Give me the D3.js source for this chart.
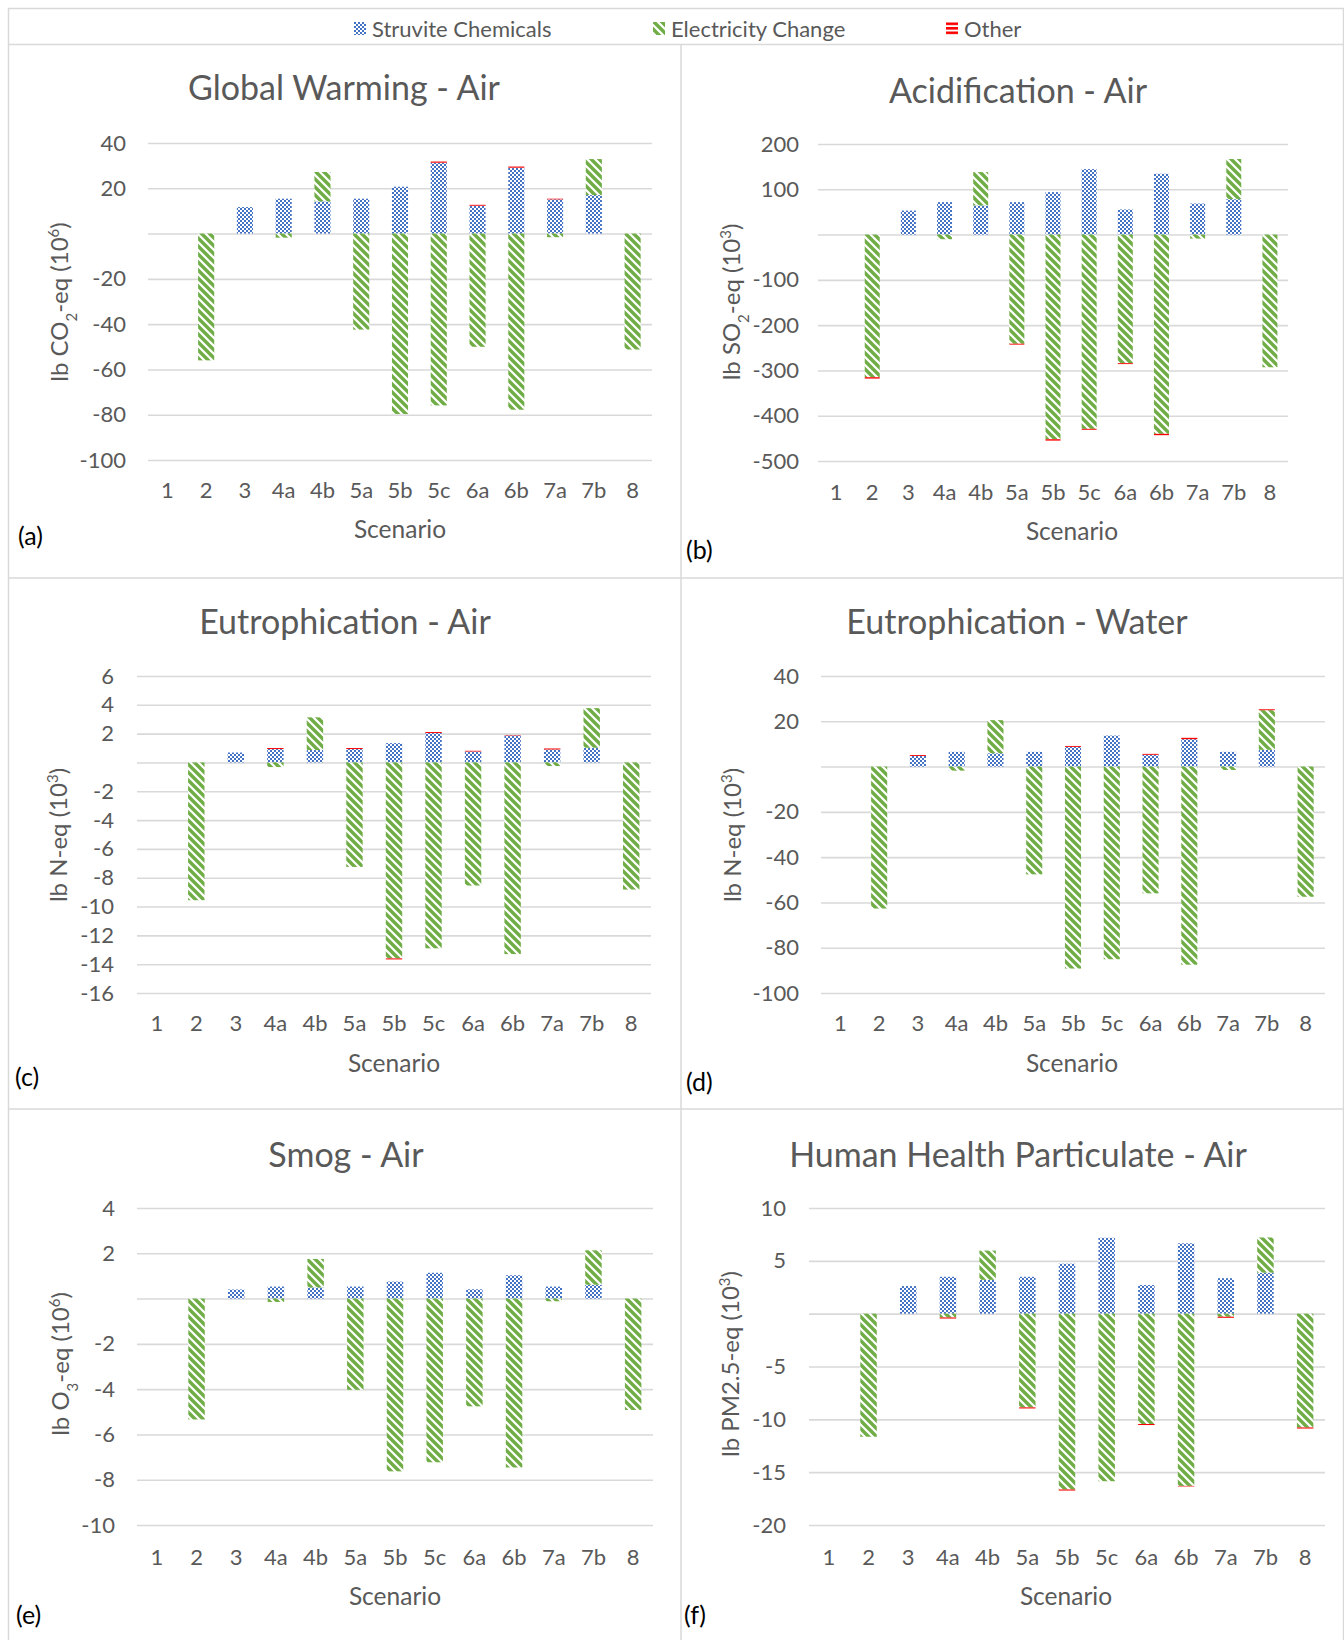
<!DOCTYPE html>
<html>
<head>
<meta charset="utf-8">
<script src="https://cdn.jsdelivr.net/npm/d3@7"></script>
<style>
  body { margin: 0; background: #fff; }
  text { font-family: Lato, "Open Sans", sans-serif; }
</style>
</head>
<body>
<svg id="chart" width="1344" height="1640"></svg>
<script>
const scenarios = ["1", "2", "3", "4a", "4b", "5a", "5b", "5c", "6a", "6b", "7a", "7b", "8"];
const seriesNames = ["Struvite Chemicals", "Electricity Change", "Other"];

// (a) Global Warming - Air, lb CO2-eq (10^6)
const gwStruvite    = [0, 0, 11.7, 15.4, 14.2, 15.4, 20.7, 31.3, 12.3, 29.1, 15.1, 17.0, 0];
const gwElectricity = [0, -56, 0, -1.8, 13.0, -42.4, -79.7, -75.9, -50.0, -77.8, -1.6, 15.9, -51.2];
const gwOther       = [0, 0, 0, 0, 0, 0, 0, 0.5, 0.4, 0.5, 0.3, 0, 0];

// (b) Acidification - Air, lb SO2-eq (10^3)
const acStruvite    = [0, 0, 53, 71.6, 64.2, 71.6, 93.7, 144.6, 55.4, 134.3, 68.6, 78.2, 0];
const acElectricity = [0, -315, 0, -10.3, 73.8, -241, -452, -429, -284, -440, -8.9, 88.6, -293];
const acOther       = [0, -3, 0, 0, 0, -2, -3, -2, -2, -3, 0, 0, 0];

// (c) Eutrophication - Air, lb N-eq (10^3)
const euAirStruvite    = [0, 0, 0.69, 0.93, 0.86, 0.93, 1.34, 2.04, 0.76, 1.87, 0.9, 1.02, 0];
const euAirElectricity = [0, -9.56, 0, -0.32, 2.27, -7.25, -13.6, -12.9, -8.54, -13.3, -0.25, 2.75, -8.82];
const euAirOther       = [0, 0, 0, 0.07, 0, 0.07, -0.07, 0.07, 0.05, 0.03, 0.07, 0, 0];

// (d) Eutrophication - Water, lb N-eq (10^3)
const euWaterStruvite    = [0, 0, 4.7, 6.5, 5.9, 6.5, 8.7, 13.7, 5.2, 12.1, 6.5, 7.4, 0];
const euWaterElectricity = [0, -62.7, 0, -1.8, 14.6, -47.6, -89.2, -85.1, -56.0, -87.5, -1.5, 17.5, -57.5];
const euWaterOther       = [0, 0, 0.4, 0, 0, 0, 0.4, 0, 0.4, 0.6, 0, 0.4, 0];

// (e) Smog - Air, lb O3-eq (10^6)
const smStruvite    = [0, 0, 0.40, 0.53, 0.49, 0.53, 0.75, 1.14, 0.41, 1.03, 0.53, 0.61, 0];
const smElectricity = [0, -5.34, 0, -0.15, 1.26, -4.03, -7.63, -7.23, -4.76, -7.46, -0.12, 1.52, -4.92];
const smOther       = [0, 0, 0, 0, 0, 0, 0, 0, 0, 0, 0, 0, 0];

// (f) Human Health Particulate - Air, lb PM2.5-eq (10^3)
const hhStruvite    = [0, 0, 2.61, 3.49, 3.2, 3.49, 4.73, 7.18, 2.71, 6.66, 3.36, 3.88, 0];
const hhElectricity = [0, -11.65, 0, -0.36, 2.77, -8.87, -16.64, -15.86, -10.44, -16.3, -0.29, 3.33, -10.77];
const hhOther       = [0, 0, 0, -0.1, 0, -0.1, -0.1, 0, -0.1, -0.05, -0.1, 0, -0.1];

const svg = d3.select("#chart");
const width = +svg.attr("width");
const height = +svg.attr("height");

const grey = "#595959";
const gridColor = "#d9d9d9";
const colors = { blue: "#4472c4", green: "#70ad47", red: "#ff0000" };

/* === patterns === */
const defs = svg.append("defs");

const chk = defs.append("pattern")
  .attr("id", "chk")
  .attr("patternUnits", "userSpaceOnUse")
  .attr("width", 4).attr("height", 4);
chk.append("rect").attr("width", 4).attr("height", 4).attr("fill", "#fff");
chk.append("rect").attr("width", 2).attr("height", 2).attr("fill", colors.blue);
chk.append("rect").attr("x", 2).attr("y", 2).attr("width", 2).attr("height", 2).attr("fill", colors.blue);

const diag = defs.append("pattern")
  .attr("id", "diag")
  .attr("patternUnits", "userSpaceOnUse")
  .attr("width", 8).attr("height", 8);
diag.append("rect").attr("width", 8).attr("height", 8).attr("fill", "#fff");
diag.append("path")
  .attr("d", "M-2,-2L10,10M-6,2L2,10M6,-2L10,2M2,-6L10,2")
  .attr("stroke", colors.green)
  .attr("stroke-width", 3.4);

const hstripe = defs.append("pattern")
  .attr("id", "hstripe")
  .attr("patternUnits", "userSpaceOnUse")
  .attr("width", 4).attr("height", 4.5);
hstripe.append("rect").attr("width", 4).attr("height", 4.5).attr("fill", "#fff");
hstripe.append("rect").attr("width", 4).attr("height", 2.6).attr("fill", colors.red);

const fills = ["url(#chk)", "url(#diag)", colors.red];

/* === background and panel borders === */
svg.append("rect").attr("width", width).attr("height", height).attr("fill", "#fff");

const borders = svg.append("g")
  .attr("stroke", gridColor)
  .attr("stroke-width", 1.5)
  .attr("fill", "none");
borders.append("path").attr("d", "M8.5,1640V8.5H1343.5V1640");
borders.append("path").attr("d", "M8.5,44.5H1343.5");
borders.append("path").attr("d", "M681,44.5V1640");
borders.append("path").attr("d", "M8.5,578H1343.5");
borders.append("path").attr("d", "M8.5,1109H1343.5");

/* === legend === */
const legendItems = [
  { x: 354, fill: "url(#chk)" },
  { x: 653, fill: "url(#diag)" },
  { x: 946, fill: "url(#hstripe)" }
];
const legend = svg.append("g");
legendItems.forEach((item, i) => {
  legend.append("rect")
    .attr("x", item.x).attr("y", 22)
    .attr("width", 12).attr("height", 13)
    .attr("fill", item.fill);
  legend.append("text")
    .attr("x", item.x + 18).attr("y", 29)
    .attr("dy", "0.35em")
    .attr("fill", grey)
    .attr("font-size", "22px")
    .text(seriesNames[i]);
});

/* === panel definitions === */
const panels = [
  {
    tag: "(a)", title: "Global Warming - Air",
    unit: [["lb CO"], ["2", "sub"], ["-eq (10"], ["6", "super"], [")"]],
    domain: [-100, 40], step: 20,
    series: [gwStruvite, gwElectricity, gwOther],
    box: { x0: 148, x1: 652, y0: 143, y1: 460 },
    titlePos: [344, 88], unitPos: [60, 302], tickRight: 126, xTickY: 490,
    scenPos: [400, 529], tagPos: [18, 536]
  },
  {
    tag: "(b)", title: "Acidification - Air",
    unit: [["lb SO"], ["2", "sub"], ["-eq (10"], ["3", "super"], [")"]],
    domain: [-500, 200], step: 100,
    series: [acStruvite, acElectricity, acOther],
    box: { x0: 818, x1: 1288, y0: 144, y1: 461 },
    titlePos: [1018, 91], unitPos: [732, 302], tickRight: 799, xTickY: 492,
    scenPos: [1072, 531], tagPos: [686, 550]
  },
  {
    tag: "(c)", title: "Eutrophication - Air",
    unit: [["lb N-eq (10"], ["3", "super"], [")"]],
    domain: [-16, 6], step: 2,
    series: [euAirStruvite, euAirElectricity, euAirOther],
    box: { x0: 137, x1: 651, y0: 676, y1: 993 },
    titlePos: [345, 622], unitPos: [59, 835], tickRight: 114, xTickY: 1023,
    scenPos: [394, 1063], tagPos: [15, 1077]
  },
  {
    tag: "(d)", title: "Eutrophication - Water",
    unit: [["lb N-eq (10"], ["3", "super"], [")"]],
    domain: [-100, 40], step: 20,
    series: [euWaterStruvite, euWaterElectricity, euWaterOther],
    box: { x0: 821, x1: 1325, y0: 676, y1: 993 },
    titlePos: [1017, 622], unitPos: [733, 835], tickRight: 799, xTickY: 1023,
    scenPos: [1072, 1063], tagPos: [686, 1082]
  },
  {
    tag: "(e)", title: "Smog - Air",
    unit: [["lb O"], ["3", "sub"], ["-eq (10"], ["6", "super"], [")"]],
    domain: [-10, 4], step: 2,
    series: [smStruvite, smElectricity, smOther],
    box: { x0: 137, x1: 653, y0: 1208, y1: 1525 },
    titlePos: [346, 1155], unitPos: [61, 1364], tickRight: 115, xTickY: 1557,
    scenPos: [395, 1596], tagPos: [16, 1615]
  },
  {
    tag: "(f)", title: "Human Health Particulate - Air",
    unit: [["lb PM2.5-eq (10"], ["3", "super"], [")"]],
    domain: [-20, 10], step: 5,
    series: [hhStruvite, hhElectricity, hhOther],
    box: { x0: 809, x1: 1325, y0: 1208, y1: 1525 },
    titlePos: [1018, 1155], unitPos: [731, 1364], tickRight: 786, xTickY: 1557,
    scenPos: [1066, 1596], tagPos: [684, 1615]
  }
];

/* === draw each panel === */
panels.forEach(p => {
  const g = svg.append("g");
  const b = p.box;

  const x = d3.scaleBand()
    .domain(scenarios)
    .range([b.x0, b.x1])
    .paddingInner(0.585)
    .paddingOuter(0.2925);

  const y = d3.scaleLinear()
    .domain(p.domain)
    .range([b.y1, b.y0]);

  const ticks = d3.range(p.domain[0], p.domain[1] + p.step / 2, p.step);

  // gridlines
  g.append("g")
    .attr("transform", `translate(${b.x0},0)`)
    .call(d3.axisLeft(y).tickValues(ticks).tickSize(-(b.x1 - b.x0)).tickFormat(""))
    .call(a => a.select(".domain").remove())
    .selectAll("line")
    .attr("stroke", gridColor)
    .attr("stroke-width", 1.6);

  // y tick labels (zero hidden, as in the original)
  g.append("g")
    .attr("transform", `translate(${p.tickRight},0)`)
    .call(d3.axisLeft(y).tickValues(ticks).tickSize(0).tickPadding(0)
      .tickFormat(d => d === 0 ? "" : d))
    .call(a => a.select(".domain").remove())
    .selectAll("text")
    .attr("fill", grey)
    .attr("font-size", "22px")
    .attr("font-family", "Lato, sans-serif");

  // x tick labels
  g.append("g")
    .attr("transform", `translate(0,${p.xTickY})`)
    .call(d3.axisBottom(x).tickSize(0).tickPadding(0))
    .call(a => a.select(".domain").remove())
    .selectAll("text")
    .attr("dy", "0.35em")
    .attr("y", 0)
    .attr("fill", grey)
    .attr("font-size", "22px")
    .attr("font-family", "Lato, sans-serif");

  // stacked bars (positive up, negative down)
  const rows = scenarios.map((s, i) => ({ s, v: p.series.map(arr => arr[i]) }));
  const stacked = d3.stack()
    .keys([0, 1, 2])
    .value((d, k) => d.v[k])
    .offset(d3.stackOffsetDiverging)(rows);

  stacked.forEach((layer, k) => {
    g.append("g")
      .selectAll("rect")
      .data(layer.filter(d => d[1] !== d[0]))
      .join("rect")
      .attr("x", d => x(d.data.s))
      .attr("width", x.bandwidth())
      .attr("y", d => y(Math.max(d[0], d[1])))
      .attr("height", d => Math.abs(y(d[0]) - y(d[1])))
      .attr("fill", fills[k]);
  });

  // title
  g.append("text")
    .attr("x", p.titlePos[0]).attr("y", p.titlePos[1])
    .attr("dy", "0.35em")
    .attr("text-anchor", "middle")
    .attr("fill", grey)
    .attr("font-size", "34px")
    .text(p.title);

  // y axis title with sub/superscripts
  const unit = g.append("text")
    .attr("transform", `translate(${p.unitPos[0]},${p.unitPos[1]}) rotate(-90)`)
    .attr("dy", "0.35em")
    .attr("text-anchor", "middle")
    .attr("fill", grey)
    .attr("font-size", "24px");
  p.unit.forEach(([t, shift]) => {
    const ts = unit.append("tspan").text(t);
    if (shift) {
      ts.attr("baseline-shift", shift).attr("font-size", "15px");
    }
  });

  // x axis title
  g.append("text")
    .attr("x", p.scenPos[0]).attr("y", p.scenPos[1])
    .attr("dy", "0.35em")
    .attr("text-anchor", "middle")
    .attr("fill", grey)
    .attr("font-size", "24.5px")
    .text("Scenario");

  // panel tag
  g.append("text")
    .attr("x", p.tagPos[0]).attr("y", p.tagPos[1])
    .attr("dy", "0.35em")
    .attr("fill", "#000")
    .attr("font-size", "25px")
    .text(p.tag);
});
</script>
</body>
</html>
